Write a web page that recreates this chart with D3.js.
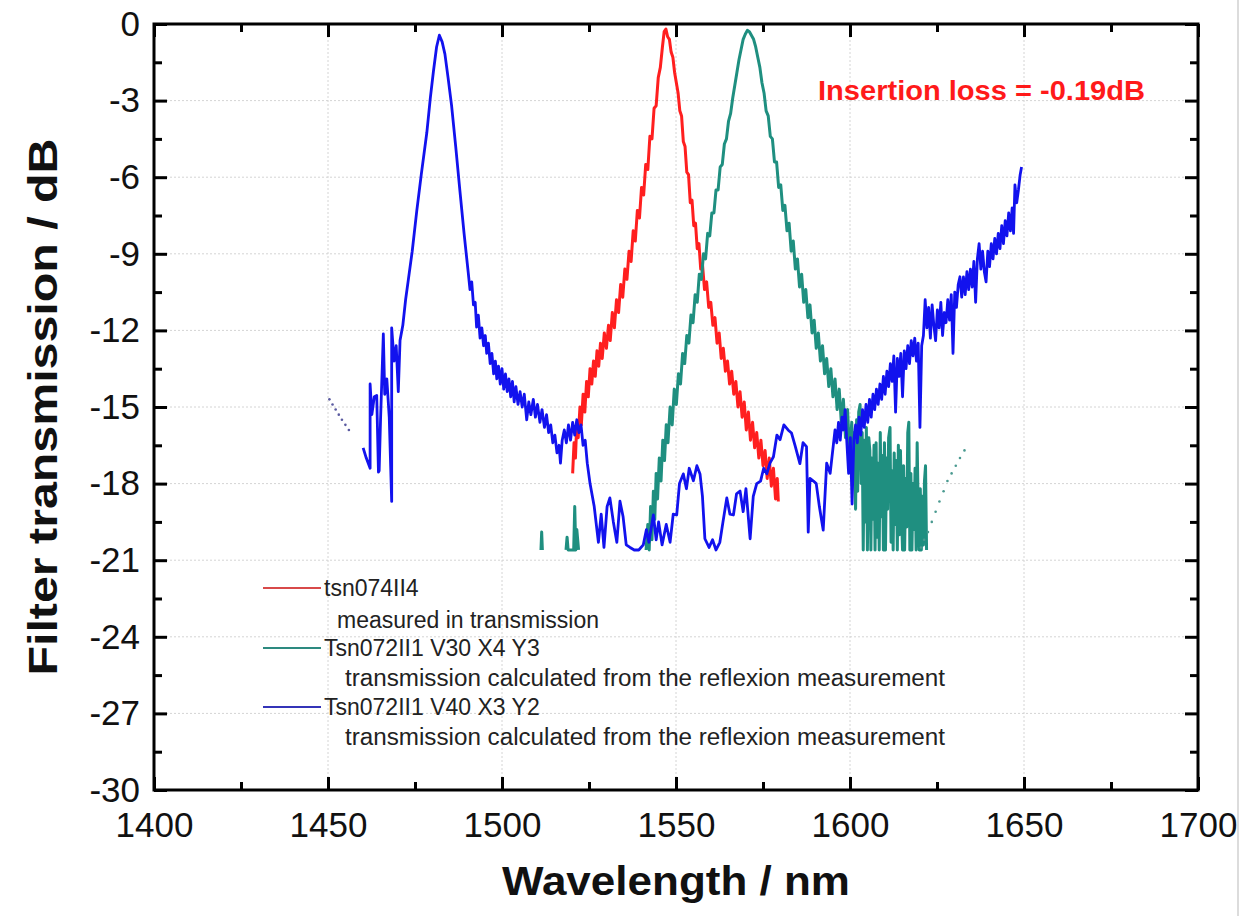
<!DOCTYPE html>
<html>
<head>
<meta charset="utf-8">
<script src="https://cdn.jsdelivr.net/npm/d3@7"></script>
<style>
  body { margin: 0; background: #fff; }
  svg { display: block; font-family: "Liberation Sans", Arial, sans-serif; }
</style>
</head>
<body>
<svg width="1242" height="916"></svg>
<script>
// tick values
const xMajor = [1400, 1450, 1500, 1550, 1600, 1650, 1700]
const xMinor = [1425, 1475, 1525, 1575, 1625, 1675]
const yMajor = [0, -3, -6, -9, -12, -15, -18, -21, -24, -27, -30]
const yMinor = [-1.5, -4.5, -7.5, -10.5, -13.5, -16.5, -19.5, -22.5, -25.5, -28.5]

const seriesNames = ["tsn074II4", "Tsn072II1 V30 X4 Y3", "Tsn072II1 V40 X3 Y2"]
const seriesNotes = ["measured in transmission",
  "transmission calculated from the reflexion measurement",
  "transmission calculated from the reflexion measurement"]
const seriesColors = ["#ff1f1f", "#1f8f80", "#1212ee"]
const legendColors = ["#d84a4a", "#2d8a80", "#3434b8"]

// measured in transmission (nm, dB)
const redData = [[1520.3,-17.6],[1520.7,-16.4],[1521.1,-17.0],[1521.5,-15.6],[1521.9,-16.2],[1522.4,-15.0],[1522.8,-15.7],[1523.3,-14.5],[1523.8,-15.2],[1524.3,-14.0],[1524.8,-14.6],[1525.3,-13.5],[1525.8,-14.1],[1526.3,-13.2],[1526.8,-13.8],[1527.3,-12.8],[1527.8,-13.4],[1528.3,-12.5],[1528.8,-13.1],[1529.4,-12.1],[1530.0,-12.7],[1530.6,-11.8],[1531.1,-12.4],[1531.7,-11.3],[1532.3,-11.9],[1532.9,-10.8],[1533.5,-11.3],[1534.1,-10.2],[1534.7,-10.7],[1535.3,-9.6],[1535.9,-10.0],[1536.5,-8.9],[1537.1,-9.3],[1537.7,-8.1],[1538.3,-8.5],[1538.9,-7.3],[1539.5,-7.6],[1540.1,-6.4],[1540.7,-6.7],[1541.3,-5.5],[1541.9,-5.7],[1542.5,-4.4],[1543.1,-4.5],[1543.7,-3.3],[1544.3,-3.2],[1544.9,-2.1],[1545.5,-1.7],[1546.1,-0.9],[1546.6,-0.3],[1547.1,-0.2],[1547.6,-0.5],[1548.1,-0.6],[1548.6,-1.1],[1549.1,-1.3],[1549.6,-1.9],[1550.1,-2.3],[1550.6,-2.7],[1551.1,-3.4],[1551.6,-3.6],[1552.1,-4.6],[1552.6,-4.8],[1553.1,-5.8],[1553.6,-5.9],[1554.1,-7.0],[1554.6,-6.9],[1555.1,-7.9],[1555.6,-7.8],[1556.1,-8.8],[1556.6,-8.6],[1557.1,-9.6],[1557.6,-9.4],[1558.2,-10.4],[1558.8,-10.1],[1559.4,-11.1],[1560.0,-10.9],[1560.6,-11.8],[1561.2,-11.5],[1561.8,-12.5],[1562.4,-12.1],[1563.0,-13.1],[1563.6,-12.7],[1564.2,-13.6],[1564.8,-13.2],[1565.4,-14.1],[1566.0,-13.6],[1566.6,-14.5],[1567.2,-14.0],[1567.8,-15.0],[1568.4,-14.4],[1569.0,-15.4],[1569.6,-14.8],[1570.2,-15.9],[1570.8,-15.2],[1571.4,-16.3],[1572.0,-15.6],[1572.6,-16.6],[1573.2,-16.0],[1573.8,-17.0],[1574.4,-16.3],[1575.0,-17.3],[1575.6,-16.7],[1576.2,-17.8],[1576.8,-17.0],[1577.4,-18.1],[1578.0,-17.4],[1578.6,-18.6],[1579.1,-17.8],[1579.4,-18.7]]

// V30 X4 Y3, null = gap
const tealData = [[1511.2,-20.6],[1511.4,-19.9],[1511.6,-20.6],null,
  [1518.4,-20.6],[1518.7,-20.1],[1519.0,-20.6],[1520.6,-20.6],[1520.9,-18.9],[1521.2,-20.6],[1521.5,-19.8],[1522.0,-20.6],null,
  [1541.4,-20.6],[1541.9,-19.6],[1542.3,-20.6],[1542.7,-18.9],[1543.1,-20.2],[1543.5,-18.3],[1543.9,-19.4],[1544.3,-17.6],[1544.7,-18.6],[1545.2,-17.0],[1545.7,-17.9],[1546.2,-16.3],[1546.7,-17.1],[1547.2,-15.7],[1547.7,-16.4],[1548.3,-15.0],[1548.9,-15.7],[1549.5,-14.3],[1550.1,-14.9],[1550.7,-13.7],[1551.3,-14.1],[1551.9,-12.9],[1552.5,-13.3],[1553.1,-12.2],[1553.7,-12.5],[1554.3,-11.4],[1554.9,-11.7],[1555.5,-10.6],[1556.1,-10.9],[1556.7,-9.8],[1557.3,-10.0],[1557.9,-9.0],[1558.5,-9.2],[1559.1,-8.2],[1559.7,-8.3],[1560.3,-7.4],[1560.9,-7.4],[1561.5,-6.5],[1562.1,-6.5],[1562.7,-5.6],[1563.3,-5.5],[1563.9,-4.7],[1564.5,-4.5],[1565.1,-3.8],[1565.7,-3.5],[1566.3,-2.9],[1566.9,-2.4],[1567.5,-1.9],[1568.1,-1.4],[1568.7,-1.0],[1569.3,-0.6],[1569.9,-0.4],[1570.5,-0.25],[1571.1,-0.3],[1571.7,-0.45],[1572.3,-0.6],[1572.9,-0.9],[1573.5,-1.3],[1574.1,-1.7],[1574.7,-2.3],[1575.3,-2.7],[1575.9,-3.4],[1576.5,-3.6],[1577.1,-4.4],[1577.7,-4.5],[1578.3,-5.4],[1578.9,-5.4],[1579.5,-6.4],[1580.1,-6.3],[1580.7,-7.3],[1581.3,-7.1],[1581.9,-8.1],[1582.5,-7.8],[1583.1,-8.9],[1583.7,-8.5],[1584.3,-9.6],[1584.9,-9.2],[1585.5,-10.3],[1586.1,-9.8],[1586.7,-10.9],[1587.3,-10.4],[1587.9,-11.5],[1588.5,-11.0],[1589.1,-12.1],[1589.7,-11.6],[1590.3,-12.7],[1590.9,-12.1],[1591.5,-13.2],[1592.1,-12.6],[1592.7,-13.7],[1593.3,-13.1],[1593.9,-14.2],[1594.5,-13.5],[1595.1,-14.6],[1595.7,-13.9],[1596.3,-15.1],[1596.9,-14.3],[1597.5,-15.6],[1598.1,-14.7],[1598.7,-16.2],[1599.3,-15.1],[1599.9,-16.9],
  [1600.5,-15.6],[1601.0,-17.6],[1601.3,-16.0],[1601.6,-19.0],[1601.9,-15.5],[1602.2,-18.3],[1602.5,-15.2],[1602.9,-14.9],[1603.2,-18.0],[1603.5,-16.0],[1603.8,-20.6],[1604.1,-16.3],[1604.4,-19.5],[1604.7,-15.8],[1605.0,-20.6],[1605.4,-16.2],[1605.7,-16.7],[1606.0,-20.6],[1606.3,-17.0],[1606.6,-19.4],[1606.9,-16.5],[1607.2,-20.6],[1607.5,-16.4],[1607.8,-20.1],[1608.1,-17.2],[1608.4,-20.6],[1608.7,-16.0],[1609.0,-19.3],[1609.3,-16.9],[1609.6,-20.6],[1609.9,-16.4],[1610.2,-20.6],[1610.5,-17.0],[1610.8,-19.0],[1611.1,-16.2],[1611.5,-15.8],[1611.8,-20.3],[1612.1,-17.5],[1612.4,-20.6],[1612.7,-16.8],[1613.0,-19.6],[1613.3,-17.1],[1613.6,-20.6],[1613.9,-16.5],[1614.2,-20.0],[1614.5,-16.7],[1614.8,-19.2],[1615.1,-20.6],[1615.4,-17.3],[1615.7,-20.6],[1616.0,-17.8],[1616.3,-19.7],[1616.6,-16.0],[1616.9,-15.6],[1617.2,-20.6],[1617.5,-17.6],[1617.8,-20.6],[1618.1,-18.0],[1618.4,-19.8],[1618.7,-17.4],[1619.0,-20.6],[1619.3,-16.4],[1619.6,-19.0],[1619.9,-20.6],[1620.2,-18.2],[1620.5,-20.6],[1620.8,-18.5],[1621.1,-20.4],[1621.4,-17.9],[1621.7,-17.3],[1622.0,-20.6]]
const tealDots = [[1620.4,-20.5],[1621.3,-20.2],[1622.4,-19.9],[1623.5,-19.5],[1624.6,-19.1],[1625.7,-18.7],[1626.9,-18.3],[1628.0,-17.9],[1629.2,-17.6],[1630.4,-17.3],[1631.6,-17.0],[1632.9,-16.7]]

// V40 X3 Y2
const blueData = [[1460.1,-16.6],[1461.0,-17.0],[1462.1,-17.4],[1462.1,-14.1],[1462.6,-15.3],[1463.3,-14.6],[1464.0,-14.55],[1464.5,-17.55],[1464.7,-17.5],[1465.1,-15.5],[1465.9,-12.14],[1466.3,-14.5],[1466.9,-13.9],[1467.6,-15.4],[1468.3,-18.7],[1468.3,-11.9],[1469.0,-13.2],[1469.6,-12.6],[1470.2,-14.4],[1470.7,-12.4],[1471.5,-11.8],[1472.3,-10.8],[1473.1,-10.0],[1474.2,-8.9],[1475.5,-7.33],[1476.8,-5.9],[1478.4,-4.25],[1479.4,-2.9],[1480.3,-1.85],[1481.2,-0.9],[1482.0,-0.44],[1482.8,-0.7],[1483.6,-1.18],[1484.5,-2.1],[1485.5,-3.18],[1486.7,-4.8],[1487.9,-6.53],[1489.1,-8.2],
  [1490.3,-9.74],[1490.8,-10.4],[1491.3,-10.1],[1491.8,-11.0],[1492.3,-10.9],[1492.7,-11.87],[1493.2,-11.4],[1493.7,-12.3],[1494.2,-11.9],[1494.7,-12.6],[1495.2,-12.2],[1495.6,-12.9],[1496.1,-12.5],[1496.6,-13.3],[1497.1,-12.9],[1497.6,-13.7],[1498.1,-13.2],[1498.5,-13.9],[1499.0,-13.4],[1499.5,-14.1],[1500.0,-13.5],[1500.5,-14.3],[1501.0,-13.7],[1501.5,-14.4],[1502.0,-13.9],[1502.5,-14.6],[1503.0,-14.0],[1503.5,-14.8],[1504.0,-14.2],[1504.6,-14.9],[1505.2,-14.4],[1505.8,-15.0],[1506.4,-14.5],[1507.1,-15.5],[1507.7,-14.8],[1508.3,-15.3],[1509.0,-14.7],[1509.6,-15.4],[1510.2,-14.9],[1510.9,-15.6],[1511.5,-15.1],[1512.2,-15.8],[1512.8,-15.3],[1513.4,-16.0],[1514.0,-15.7],[1514.6,-16.4],[1515.2,-16.1],[1515.8,-16.8],[1516.4,-16.5],[1516.8,-17.2],[1517.3,-16.3],[1517.9,-15.9],[1518.5,-16.4],[1519.1,-15.7],[1519.7,-16.3],[1520.3,-15.6],[1520.9,-16.1],[1521.5,-15.5],[1522.1,-16.0],[1522.7,-15.7],[1523.3,-16.5],[1523.9,-16.3],[1524.5,-17.2],
  [1525.3,-18.0],[1526.5,-18.9],[1527.7,-20.3],[1528.5,-19.2],[1529.3,-20.5],[1530.2,-18.9],[1531.0,-18.56],[1532.0,-19.5],[1533.0,-20.3],[1533.9,-18.69],[1534.8,-19.3],[1535.7,-20.4],[1536.8,-20.5],[1538.0,-20.6],[1539.3,-20.6],[1540.6,-20.4],[1541.5,-19.8],[1542.2,-20.3],[1543.5,-19.23],[1544.3,-20.2],[1545.0,-19.5],[1546.0,-20.4],[1547.2,-19.6],[1548.3,-20.3],[1549.2,-19.2],[1550.2,-19.23],[1551.0,-18.0],[1552.1,-17.62],[1553.0,-18.2],[1553.8,-17.4],[1555.0,-17.89],[1556.0,-17.3],[1556.9,-17.62],[1557.6,-18.5],[1558.3,-20.16],[1559.5,-20.5],[1560.5,-20.2],[1561.5,-20.6],[1562.6,-20.3],[1563.5,-19.5],[1564.6,-18.56],[1565.5,-19.2],[1566.5,-19.23],[1567.4,-18.4],[1568.4,-18.29],[1569.3,-19.1],[1570.1,-18.2],[1571.3,-20.16],[1572.2,-18.5],[1573.2,-18.0],[1574.3,-17.9],[1575.2,-17.4],[1576.1,-17.62],[1577.0,-17.2],[1578.0,-16.95],[1579.0,-16.1],[1579.9,-16.28],[1581.0,-15.7],[1582.2,-15.9],[1583.2,-16.02],[1584.2,-16.5],[1585.6,-17.22],[1586.5,-16.4],[1587.5,-16.55],[1588.0,-19.9],[1588.5,-17.8],[1589.5,-17.9],[1590.3,-18.0],[1591.2,-18.9],[1592.3,-19.82],[1593.3,-17.2],[1594.3,-17.6],
  [1595.2,-16.5],[1595.7,-15.9],[1596.2,-16.4],[1596.7,-15.6],[1597.2,-16.3],[1597.7,-15.4],[1598.1,-15.9],[1598.6,-15.1],[1599.1,-16.4],[1599.6,-17.6],[1600.1,-16.2],[1600.6,-18.8],[1601.1,-16.3],[1601.6,-15.7],[1602.1,-16.4],[1602.6,-15.4],[1603.1,-16.1],[1603.6,-15.1],[1604.1,-15.8],[1604.6,-14.9],[1605.1,-15.6],[1605.6,-14.7],[1606.1,-15.4],[1606.6,-14.5],[1607.1,-15.1],[1607.6,-14.3],[1608.1,-14.9],[1608.6,-14.1],[1609.1,-14.7],[1609.6,-13.8],[1610.1,-14.5],[1610.6,-13.6],[1611.1,-14.2],[1611.6,-13.3],[1612.1,-14.0],[1612.6,-13.0],[1613.1,-15.2],[1613.6,-13.1],[1614.1,-13.8],[1614.6,-12.9],[1615.1,-14.6],[1615.6,-12.8],[1616.1,-13.5],[1616.6,-12.6],[1617.1,-13.3],[1617.6,-12.4],[1618.1,-13.0],[1618.6,-12.3],[1619.1,-13.2],[1619.6,-12.5],[1620.1,-15.8],[1620.6,-12.6],[1621.1,-12.2],[1621.6,-10.8],[1622.1,-11.9],[1622.6,-11.1],[1623.1,-12.3],[1623.6,-11.0],[1624.1,-11.8],[1624.6,-12.4],[1625.1,-11.2],[1625.6,-11.9],[1626.1,-10.9],[1626.6,-12.2],[1627.1,-11.3],[1627.6,-11.7],[1628.1,-10.8],[1628.6,-11.6],[1629.1,-10.6],[1629.6,-12.9],[1630.1,-10.5],[1630.6,-11.1],[1631.1,-10.2],[1631.6,-9.9],[1632.1,-10.7],[1632.6,-9.9],[1633.1,-10.6],[1633.6,-9.7],[1634.1,-10.4],[1634.6,-9.6],[1635.1,-10.3],[1635.6,-9.3],[1636.1,-10.9],[1636.6,-9.2],[1637.1,-8.6],[1637.6,-9.6],[1638.1,-8.9],[1638.6,-9.7],[1639.1,-10.1],[1639.6,-8.9],[1640.1,-9.5],[1640.6,-8.6],[1641.1,-9.2],[1641.6,-8.4],[1642.1,-9.0],[1642.6,-8.2],[1643.1,-8.8],[1643.6,-7.9],[1644.1,-8.6],[1644.6,-7.7],[1645.1,-8.3],[1645.6,-7.4],[1646.1,-8.1],[1646.6,-7.2],[1647.0,-8.2],[1647.4,-6.3],[1647.9,-7.0],[1648.4,-6.5],[1648.9,-5.9],[1649.3,-5.6]]
const blueDots = [[1450.4,-14.7],[1451.3,-14.9],[1452.2,-15.1],[1453.1,-15.3],[1454.0,-15.5],[1455.0,-15.7],[1456.0,-15.9]]

const svg = d3.select("svg")
const margin = { left: 154, right: 44, top: 24, bottom: 126 }
const width = 1242, height = 916

const x = d3.scaleLinear().domain([1400, 1700]).range([margin.left, width - margin.right])
const y = d3.scaleLinear().domain([-30, 0]).range([height - margin.bottom, margin.top])

// image border line on the right
svg.append("line")
  .attr("x1", 1238).attr("x2", 1238).attr("y1", 0).attr("y2", height)
  .attr("stroke", "#d0d0d0").attr("stroke-width", 1.5)

// grid
const grid = svg.append("g").attr("stroke", "#d4d4d4").attr("stroke-width", 1).attr("stroke-dasharray", "2,2")
grid.selectAll(".gx").data(xMajor.slice(1, -1)).enter().append("line")
  .attr("x1", d => x(d)).attr("x2", d => x(d)).attr("y1", y(0)).attr("y2", y(-30))
grid.selectAll(".gy").data(yMajor.slice(1, -1)).enter().append("line")
  .attr("x1", x(1400)).attr("x2", x(1700)).attr("y1", d => y(d)).attr("y2", d => y(d))

// curves
const line = d3.line()
  .defined(d => d != null)
  .x(d => x(d[0]))
  .y(d => y(d[1]))

const curves = [redData, tealData, blueData]
const widths = [3, 3, 2.8]
curves.forEach(function (data, i) {
  svg.append("path")
    .datum(data)
    .attr("fill", "none")
    .attr("stroke", seriesColors[i])
    .attr("stroke-width", widths[i])
    .attr("stroke-linejoin", "round")
    .attr("d", line)
})

svg.append("g").selectAll("circle").data(blueDots).enter().append("circle")
  .attr("cx", d => x(d[0])).attr("cy", d => y(d[1])).attr("r", 1.3)
  .attr("fill", "#5a5aa0")
svg.append("g").selectAll("circle").data(tealDots).enter().append("circle")
  .attr("cx", d => x(d[0])).attr("cy", d => y(d[1])).attr("r", 1.3)
  .attr("fill", "#4a9a90")

// axes, ticks pointing inward
function styleAxis(g) {
  g.select(".domain").remove()
  g.selectAll(".tick line").attr("stroke", "#000").attr("stroke-width", 3)
  g.selectAll("text").attr("fill", "#111").style("font-size", "35px")
}
const plain = d => String(d)

svg.append("g").attr("transform", "translate(0," + y(-30) + ")")
  .call(d3.axisBottom(x).tickValues(xMajor).tickSize(-13).tickPadding(22).tickFormat(plain))
  .call(styleAxis)
svg.append("g").attr("transform", "translate(0," + y(-30) + ")")
  .call(d3.axisBottom(x).tickValues(xMinor).tickSize(-8).tickFormat(""))
  .call(styleAxis)
svg.append("g").attr("transform", "translate(0," + y(0) + ")")
  .call(d3.axisTop(x).tickValues(xMajor).tickSize(-13).tickFormat(""))
  .call(styleAxis)
svg.append("g").attr("transform", "translate(0," + y(0) + ")")
  .call(d3.axisTop(x).tickValues(xMinor).tickSize(-8).tickFormat(""))
  .call(styleAxis)

svg.append("g").attr("transform", "translate(" + x(1400) + ",0)")
  .call(d3.axisLeft(y).tickValues(yMajor).tickSize(-13).tickPadding(14).tickFormat(plain))
  .call(styleAxis)
svg.append("g").attr("transform", "translate(" + x(1400) + ",0)")
  .call(d3.axisLeft(y).tickValues(yMinor).tickSize(-8).tickFormat(""))
  .call(styleAxis)
svg.append("g").attr("transform", "translate(" + x(1700) + ",0)")
  .call(d3.axisRight(y).tickValues(yMajor).tickSize(-13).tickFormat(""))
  .call(styleAxis)
svg.append("g").attr("transform", "translate(" + x(1700) + ",0)")
  .call(d3.axisRight(y).tickValues(yMinor).tickSize(-8).tickFormat(""))
  .call(styleAxis)

// frame
svg.append("rect")
  .attr("x", x(1400)).attr("y", y(0))
  .attr("width", x(1700) - x(1400)).attr("height", y(-30) - y(0))
  .attr("fill", "none").attr("stroke", "#000").attr("stroke-width", 3)

// axis titles
svg.append("text")
  .attr("x", x(1550)).attr("y", 895)
  .attr("text-anchor", "middle")
  .attr("textLength", 348).attr("lengthAdjust", "spacingAndGlyphs")
  .style("font-size", "41px").style("font-weight", "bold").attr("fill", "#111")
  .text("Wavelength / nm")

svg.append("text")
  .attr("transform", "translate(57," + y(-15) + ") rotate(-90)")
  .attr("text-anchor", "middle")
  .attr("textLength", 537).attr("lengthAdjust", "spacingAndGlyphs")
  .style("font-size", "40px").style("font-weight", "bold").attr("fill", "#111")
  .text("Filter transmission / dB")

// annotation
svg.append("text")
  .attr("x", 818).attr("y", 100)
  .attr("textLength", 327).attr("lengthAdjust", "spacingAndGlyphs")
  .style("font-size", "27px").style("font-weight", "bold").attr("fill", "#ff1a1a")
  .text("Insertion loss = -0.19dB")

// legend
const legend = svg.append("g")
const nameY = [588, 648, 707]
const noteY = [620, 678, 737]
const noteX = [337, 345, 345]
seriesNames.forEach(function (name, i) {
  legend.append("line")
    .attr("x1", 263).attr("x2", 321).attr("y1", nameY[i]).attr("y2", nameY[i])
    .attr("stroke", legendColors[i]).attr("stroke-width", 2)
  legend.append("text")
    .attr("x", 324).attr("y", nameY[i]).attr("dy", "0.36em")
    .style("font-size", "23px").attr("fill", "#222")
    .text(name)
  legend.append("text")
    .attr("x", noteX[i]).attr("y", noteY[i]).attr("dy", "0.36em")
    .attr("textLength", i == 0 ? null : 600).attr("lengthAdjust", "spacingAndGlyphs")
    .style("font-size", "23px").attr("fill", "#222")
    .text(seriesNotes[i])
})
</script>
</body>
</html>
